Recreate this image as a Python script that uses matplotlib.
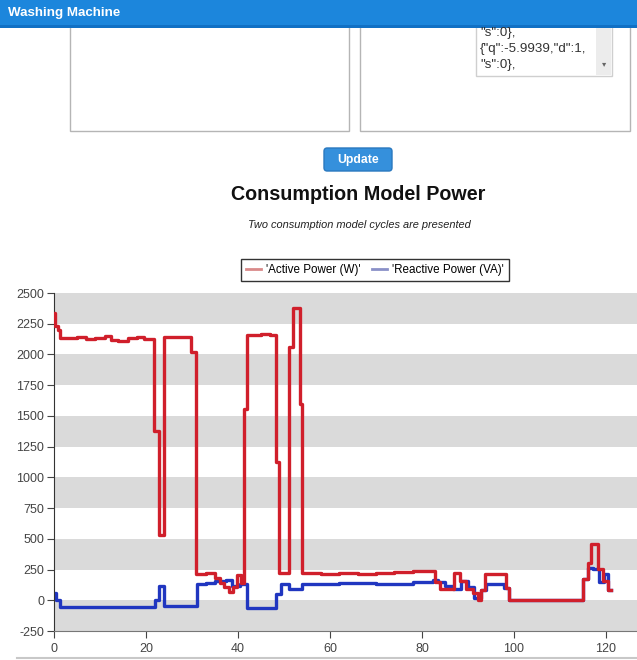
import matplotlib
matplotlib.use("Agg")
import matplotlib.pyplot as plt
from matplotlib.patches import Rectangle, FancyBboxPatch
from matplotlib.lines import Line2D
from matplotlib.ticker import FuncFormatter

W, H = 637, 660

# active power (W), step changes: time / value
t_active = [0, 0.3, 0.8, 1.2, 3, 5, 7, 9, 11, 12.5, 14, 16, 18, 19.5, 21.7, 22.8, 23.9,
            29.8, 30.8, 33, 35, 36, 37, 38, 39, 39.8, 40.6, 41.4, 42, 45, 47, 48.2, 49,
            51, 52, 53.5, 54, 58, 62, 66, 70, 74, 78, 80, 82.8, 84, 87, 88.3, 89.6, 91,
            92.2, 92.8, 93.8, 98.2, 99, 115, 116, 116.8, 118.2, 119.3, 120.4, 121]
p_active = [2340, 2230, 2200, 2135, 2130, 2145, 2125, 2130, 2150, 2120, 2110, 2130, 2140,
            2125, 1375, 535, 2140, 2020, 215, 225, 180, 140, 110, 70, 110, 205, 140, 1560,
            2160, 2170, 2160, 1125, 220, 2060, 2380, 1600, 220, 210, 225, 215, 225, 230,
            235, 240, 150, 90, 225, 160, 95, 60, 0, 80, 215, 100, 5, 175, 300, 460, 255,
            160, 80, 80]

# reactive power (VA)
t_reactive = [0, 0.4, 1.3, 21.9, 22.8, 24, 31, 33, 35, 37.4, 38.8, 40.5, 42, 48.3, 49.3,
              51, 54, 62, 70, 78, 82.4, 83.5, 85, 86.7, 88.5, 90, 91.3, 92.8, 94, 97.8,
              99, 115, 116, 117.2, 118.5, 119.5, 120.4, 121]
p_reactive = [60, 5, -55, 0, 120, -50, 130, 140, 155, 165, 120, 135, -60, 50, 135, 95, 130,
              140, 135, 145, 165, 150, 120, 95, 160, 110, 20, 80, 135, 100, 5, 175, 260,
              255, 145, 215, 80, 80]

yticks = [-250, 0, 250, 500, 750, 1000, 1250, 1500, 1750, 2000, 2250, 2500]
xticks = [0, 20, 40, 60, 80, 100, 120]

RED = "#d01f2b"
BLUE = "#2036c0"

plt.rcParams['font.family'] = ['Liberation Sans', 'DejaVu Sans']

fig = plt.figure(figsize=(W / 100, H / 100), dpi=100)


def fx(px):
    return px / W


def fy(py):
    return 1 - py / H


def rect(x0, y0, x1, y1, **kw):
    fig.patches.append(Rectangle((fx(x0), fy(y1)), fx(x1) - fx(x0), fy(y0) - fy(y1),
                                 transform=fig.transFigure, **kw))


# page boxes
rect(70, 20, 349, 131, facecolor="white", edgecolor="#b5b5b5", lw=1)
rect(360, 20, 630, 131, facecolor="white", edgecolor="#b5b5b5", lw=1)
rect(476, 20, 612, 76, facecolor="white", edgecolor="#cfcfcf", lw=1)
rect(596, 20, 611, 75, facecolor="#ececec", edgecolor="none")
fig.text(fx(604), fy(64), "▾", fontsize=6, color="#666", ha="center", va="center",
         family="DejaVu Sans")
for yy, s in [(33, '"s":0},'), (49, '{"q":-5.9939,"d":1,'), (65, '"s":0},')]:
    fig.text(fx(480), fy(yy), s, fontsize=9.6, color="#333", va="center")

# top bar
rect(0, 0, 637, 25, facecolor="#1c86dc", edgecolor="none")
rect(0, 25, 637, 28, facecolor="#1170c4", edgecolor="none")
fig.text(fx(8), fy(13), "Washing Machine", fontsize=9.6, color="white", weight="bold",
         va="center")

# button
fig.patches.append(FancyBboxPatch((fx(324), fy(171)), fx(68), 23 / H,
                                  boxstyle="round,pad=0,rounding_size=0.005",
                                  transform=fig.transFigure, facecolor="#3590dc",
                                  edgecolor="#2a78bf", lw=1))
fig.text(fx(358), fy(160), "Update", fontsize=8.8, color="white", weight="bold",
         ha="center", va="center")

fig.text(fx(358), fy(194), "Consumption Model Power", fontsize=14.2, weight="bold",
         ha="center", va="center", color="#111")
fig.text(fx(359), fy(225), "Two consumption model cycles are presented", fontsize=7.9,
         style="italic", ha="center", va="center", color="#222")

# chart
ax = fig.add_axes([fx(54), fy(631), fx(637) - fx(54), fy(293) - fy(631)])
ax.set_xlim(0, (637 - 54) / 4.6)
ax.set_ylim(-250, 2500)
for lo in range(-250, 2500, 500):
    ax.axhspan(lo, lo + 250, color="#dadada", lw=0, zorder=0)

ax.step(t_active, p_active, where="post", color=RED, lw=2.4, zorder=3)
ax.step(t_reactive, p_reactive, where="post", color=BLUE, lw=2.4, zorder=2)

ax.set_yticks(yticks)
ax.set_xticks(xticks)
ax.yaxis.set_major_formatter(FuncFormatter(lambda v, p: "%d" % v))
ax.tick_params(labelsize=9, colors="#444", length=5, width=0.8)
ax.tick_params(axis="x", pad=4)
ax.tick_params(axis="y", pad=2)
for side in ["top", "right"]:
    ax.spines[side].set_visible(False)
ax.spines["left"].set_color("#333")
ax.spines["bottom"].set_color("#777")

handles = [Line2D([], [], color="#d98a8a", lw=2), Line2D([], [], color="#8a90c8", lw=2)]
leg = fig.legend(handles, ["'Active Power (W)'", "'Reactive Power (VA)'"], ncol=2,
                 loc="center", bbox_to_anchor=(fx(375), fy(270)), fontsize=8.4,
                 frameon=True, fancybox=False, handlelength=1.3, handletextpad=0.4,
                 columnspacing=1.0, borderpad=0.45)
leg.get_frame().set_edgecolor("black")
leg.get_frame().set_linewidth(1)

fig.add_artist(Line2D([fx(17), 1], [fy(658), fy(658)], color="#c8c8c8", lw=1.5))

fig.savefig("out.png", dpi=100)
